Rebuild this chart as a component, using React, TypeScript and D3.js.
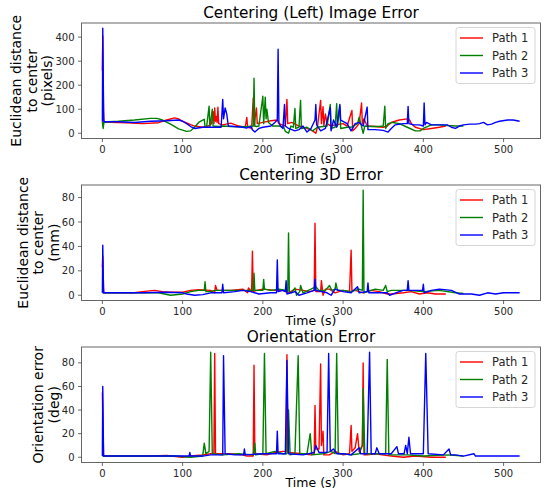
import React from 'react';
import * as d3 from 'd3';

type Pt = [number, number];

const pathNames = ['Path 1', 'Path 2', 'Path 3'];
const pathColors = ['#ff0000', '#008000', '#0000ff'];
const xTicks = [0, 100, 200, 300, 400, 500];
const imageTicks = [0, 100, 200, 300, 400];
const mmTicks = [0, 20, 40, 60, 80];
const degTicks = [0, 20, 40, 60, 80];
const titles = ['Centering (Left) Image Error', 'Centering 3D Error', 'Orientation Error'];
const yLabels = [
  ['Euclidean distance', 'to center', '(pixels)'],
  ['Euclidean distance', 'to center', '(mm)'],
  ['Orientation error', '(deg)'],
];
const xLabel = 'Time (s)';

// Centering (left) image error, pixels
const imagePath1: Pt[] = [[0,260],[0.5,405],[1.5,60],[2,47],[10,46],[30,43],[50,40],[70,44],[80,55],[90,64],[95,60],[100,50],[110,36],[115,30],[125,25],[132,30],[136,40],[138,90],[139,40],[140,105],[141,50],[142,70],[143,45],[144,108],[145,40],[150,35],[160,42],[170,30],[178,25],[180,66],[181,25],[186,20],[188,147],[189,30],[192,105],[193,40],[200,45],[210,52],[218,55],[220,40],[228,30],[230,141],[231,40],[236,45],[245,30],[255,20],[262,10],[266,0],[268,25],[272,137],[273,40],[275,110],[276,30],[278,80],[280,40],[285,30],[290,35],[300,40],[305,30],[311,95],[312,10],[315,20],[320,40],[323,126],[324,40],[326,60],[330,30],[340,28],[350,25],[355,30],[360,45],[370,55],[380,60],[383,55],[385,40],[390,25],[400,15],[410,20],[420,25],[428,30]];
const imagePath2: Pt[] = [[0,47],[1,20],[2,47],[20,50],[40,55],[60,62],[68,62],[75,55],[85,38],[95,18],[105,8],[110,10],[115,25],[120,45],[125,55],[127,58],[128,25],[130,30],[133,113],[134,25],[137,100],[138,30],[145,28],[150,30],[160,28],[170,27],[180,27],[188,30],[189,229],[190,30],[192,28],[195,30],[200,154],[201,40],[203,150],[204,60],[205,100],[207,45],[212,30],[220,30],[226,25],[228,8],[232,0],[235,30],[238,25],[240,103],[241,20],[245,25],[247,137],[248,20],[255,25],[262,10],[268,25],[275,28],[280,30],[284,120],[285,20],[290,25],[292,123],[293,30],[296,110],[297,20],[305,25],[310,25],[318,40],[320,67],[322,40],[325,0],[327,30],[335,28],[345,28],[350,30],[352,113],[353,20],[356,40],[362,45],[370,40],[380,25],[390,10],[396,10],[400,20],[410,35],[420,35],[430,32],[440,30],[450,30]];
const imagePath3: Pt[] = [[0,48],[0.5,437],[1.5,100],[2,48],[20,48],[40,45],[60,50],[80,52],[95,55],[100,50],[105,40],[110,28],[115,20],[125,25],[140,25],[148,25],[150,141],[151,60],[153,105],[155,80],[157,30],[165,28],[175,25],[180,22],[185,28],[187,15],[190,5],[195,20],[200,25],[210,30],[215,45],[218,55],[219,350],[220,45],[222,30],[225,20],[227,120],[228,30],[232,20],[240,10],[245,15],[250,30],[255,5],[260,20],[265,55],[266,120],[267,35],[272,10],[278,20],[284,106],[285,10],[288,55],[292,25],[296,120],[297,55],[305,40],[310,10],[315,40],[320,45],[325,30],[330,109],[331,15],[340,15],[350,12],[356,5],[360,20],[365,35],[375,40],[380,40],[381,112],[382,40],[388,35],[395,35],[400,30],[401,126],[402,35],[404,45],[410,35],[420,35],[430,35],[435,25],[440,20],[445,30],[450,35],[458,38],[465,38],[470,40],[475,45],[480,35],[485,38],[490,45],[495,50],[505,55],[512,55],[520,50]];

// Centering 3D error, mm
const mmPath1: Pt[] = [[0,23],[0.5,32],[1.5,5],[2,2],[20,2],[40,2],[50,3],[65,4],[75,3],[85,2.5],[100,2.5],[110,4],[120,4.5],[135,4],[140,2],[141,8],[143,4],[150,4],[160,4],[175,5],[181,2],[182,6],[186,3],[187,36],[188,3],[192,4],[200,5],[215,4],[225,4],[232,2],[240,5],[250,4],[258,3],[264,4],[265,59],[266,3],[272,3],[273,12],[275,0],[278,5],[283,5],[290,2],[300,4],[308,3],[310,37],[311,4],[315,4],[325,2],[335,4],[345,3],[355,1],[360,1],[375,2],[385,3],[395,1],[405,2],[415,1],[428,1]];
const mmPath2: Pt[] = [[0,2],[2,2],[40,2],[70,2],[85,0],[100,1],[110,3],[120,4],[127,4],[128,11],[129,3],[135,3],[140,4],[160,4],[180,4],[188,4],[189,18],[190,4],[200,4],[201,13],[202,5],[210,4],[220,5],[230,4],[231,3],[232,51],[233,3],[236,2],[240,6],[242,0],[246,3],[247,8],[250,2],[260,5],[266,7],[270,4],[278,4],[283,8],[286,4],[290,5],[291,10],[293,4],[300,4],[310,3],[320,5],[324,4],[325,86],[326,2],[330,3],[340,5],[350,4],[353,8],[355,3],[360,4],[380,4],[400,3],[420,4],[440,2],[450,1.5]];
const mmPath3: Pt[] = [[0,2],[0.5,41],[1.5,2],[50,2],[80,2.5],[100,2],[105,1],[115,0],[125,0.5],[135,2],[149,2],[150,9],[151,2],[165,3],[175,4],[185,3],[195,1],[210,2],[217,2],[218,29],[219,3],[225,4],[228,3],[229,12],[230,1],[240,3],[245,0],[255,2],[264,4],[265,13],[266,4],[280,2],[285,0],[290,5],[300,3],[310,2],[318,7],[320,2],[330,3],[331,10],[332,2],[340,2],[355,2],[358,0],[370,3],[375,4],[380,4],[381,12],[382,4],[395,4],[399,4],[400,9],[401,2],[410,4],[420,5],[435,4],[445,1],[460,1],[470,0],[480,2],[490,1],[500,2],[520,2]];

// Orientation error, deg
const degPath1: Pt[] = [[0,55],[1.5,1],[60,1],[80,1.5],[100,0],[110,1],[125,2],[135,3],[139,3],[140,88],[141,3],[160,3],[175,2],[180,1],[188,1],[189,78],[190,3],[205,2],[215,4],[225,5],[229,5],[230,87],[231,4],[250,3],[260,2],[264,3],[265,44],[266,7],[270,7],[272,79],[273,10],[275,22],[276,2],[283,2],[290,5],[300,2],[308,3],[310,27],[311,5],[315,8],[318,20],[320,5],[324,10],[325,80],[326,2],[330,2],[340,3],[360,1],[375,0],[390,1],[410,0],[428,0]];
const degPath2: Pt[] = [[0,1],[60,1],[90,1],[110,0],[125,1],[127,12],[129,3],[133,5],[135,89],[137,3],[150,2],[170,3],[188,2],[190,12],[191,2],[200,3],[202,88],[204,3],[215,5],[225,3],[230,3],[232,40],[234,2],[240,3],[244,86],[246,3],[255,3],[259,20],[261,2],[275,3],[285,5],[290,3],[292,88],[294,3],[300,3],[310,2],[320,3],[324,10],[325,58],[327,3],[345,3],[353,3],[355,83],[357,2],[380,2],[400,1],[430,2],[450,1]];
const degPath3: Pt[] = [[0,1],[0.5,60],[1.5,1],[60,1],[100,1],[108,1],[109,4],[110,1],[125,1],[135,2],[150,2],[151,86],[153,3],[165,2],[176,2],[177,7],[178,2],[200,3],[217,3],[218,22],[219,3],[228,3],[230,82],[232,3],[250,2],[264,4],[266,10],[270,4],[280,4],[282,88],[284,5],[288,7],[292,3],[300,3],[310,2],[320,8],[322,3],[330,3],[333,89],[335,3],[340,3],[342,8],[345,3],[360,3],[367,9],[369,3],[376,3],[378,10],[380,3],[382,17],[384,3],[400,3],[403,88],[406,3],[425,2],[432,7],[434,2],[440,2],[450,1],[463,3],[465,1],[470,1],[485,1],[500,1],[520,1]];

const panelSeries = [
  [imagePath1, imagePath2, imagePath3],
  [mmPath1, mmPath2, mmPath3],
  [degPath1, degPath2, degPath3],
];
const panelTicks = [imageTicks, mmTicks, degTicks];

const W = 545;
const H = 490;
const LEFT = 81.5;
const RIGHT = 540.5;
const TOPS = [23, 185, 347];
const PH = 115.5;
const FONT = '"DejaVu Sans", sans-serif';
const TICK_FS = 10;
const TITLE_FS = 15.3;
const LABEL_FS = 14;
const XLABEL_FS = 12.5;
const LEGEND_FS = 11.5;
const LINE_SPACING = 15.5;

function pad(ext: [number, number]): [number, number] {
  const s = ext[1] - ext[0];
  return [ext[0] - 0.05 * s, ext[1] + 0.05 * s];
}

export default function App() {
  const allPts = panelSeries.flat(1).flat(1) as Pt[];
  const xDom = pad(d3.extent(allPts, (p) => p[0]) as [number, number]);
  const x = d3.scaleLinear().domain(xDom).range([LEFT, RIGHT]);

  return (
    <svg width={W} height={H} style={{ position: 'absolute', left: 0, top: 0, background: '#fff' }} fontFamily={FONT}>
      <rect x={0} y={0} width={W} height={H} fill="#fff" />
      {panelSeries.map((series, pi) => {
        const top = TOPS[pi];
        const bottom = top + PH;
        const pts = series.flat(1) as Pt[];
        const yDom = pad(d3.extent(pts, (p) => p[1]) as [number, number]);
        const y = d3.scaleLinear().domain(yDom).range([bottom, top]);
        const line = d3.line<Pt>().x((d) => x(d[0])).y((d) => y(d[1]));
        const ticks = panelTicks[pi];
        const maxLabelW = d3.max(ticks, (t) => String(t).length)! * 0.636 * TICK_FS;
        const labelRightX = LEFT - 7 - maxLabelW - 8;
        const lines = yLabels[pi];
        const cy = (top + bottom) / 2;
        const clipId = `clip${pi}`;
        const legW = 79;
        const legX = RIGHT - 5.5 - legW;
        return (
          <g key={pi}>
            <defs>
              <clipPath id={clipId}>
                <rect x={LEFT} y={top} width={RIGHT - LEFT} height={PH} />
              </clipPath>
            </defs>
            <g clipPath={`url(#${clipId})`}>
              {series.map((s, si) => (
                <path key={si} d={line(s) || ''} fill="none" stroke={pathColors[si]} strokeWidth={1.4} strokeLinejoin="round" />
              ))}
            </g>
            <rect x={LEFT} y={top} width={RIGHT - LEFT} height={PH} fill="none" stroke="#666" strokeWidth={1} />
            {xTicks.map((t) => (
              <g key={t}>
                <line x1={x(t)} x2={x(t)} y1={bottom} y2={bottom + 3.5} stroke="#444" strokeWidth={0.8} />
                <text x={x(t)} y={bottom + 14.5} textAnchor="middle" fontSize={TICK_FS} fill="#262626">{t}</text>
              </g>
            ))}
            {ticks.map((t) => (
              <g key={t}>
                <line x1={LEFT - 3.5} x2={LEFT} y1={y(t)} y2={y(t)} stroke="#444" strokeWidth={0.8} />
                <text x={LEFT - 7} y={y(t) + 3.6} textAnchor="end" fontSize={TICK_FS} fill="#262626">{t}</text>
              </g>
            ))}
            <text x={(LEFT + RIGHT) / 2} y={top - 5.5} textAnchor="middle" fontSize={TITLE_FS} fill="#000">{titles[pi]}</text>
            <text x={(LEFT + RIGHT) / 2} y={bottom + 24.5} textAnchor="middle" fontSize={XLABEL_FS} fill="#000">{xLabel}</text>
            {lines.map((l, li) => {
              const lx = labelRightX - (lines.length - 1 - li) * LINE_SPACING;
              return (
                <text key={li} x={lx} y={cy} transform={`rotate(-90 ${lx} ${cy})`} textAnchor="middle" dominantBaseline="central" fontSize={LABEL_FS} fill="#000">{l}</text>
              );
            })}
            <g>
              <rect x={legX} y={top + 4.5} width={legW} height={56} rx={2.5} fill="#fff" fillOpacity={0.8} stroke="#cccccc" strokeWidth={0.8} />
              {pathNames.map((n, ni) => {
                const ly = top + 15 + ni * 17.5;
                return (
                  <g key={n}>
                    <line x1={legX + 4} x2={legX + 27} y1={ly} y2={ly} stroke={pathColors[ni]} strokeWidth={1.4} />
                    <text x={legX + 36} y={ly + 4.2} fontSize={LEGEND_FS} fill="#262626">{n}</text>
                  </g>
                );
              })}
            </g>
          </g>
        );
      })}
    </svg>
  );
}
